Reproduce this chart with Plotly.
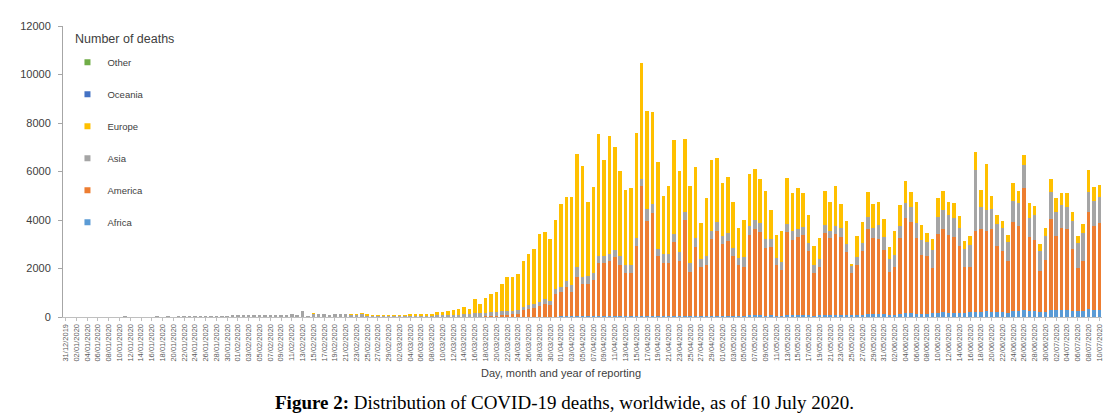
import pandas as pd
import plotly.graph_objects as go

# ---------------- data ----------------
dates = pd.date_range("2019-12-31", "2020-07-10", freq="D").strftime("%d/%m/%Y").tolist()

africa = ([0] * 68 + [1, 0, 1] +
          [0, 1, 1, 1, 1, 2, 2, 3, 3, 4, 5, 6, 8, 8] +
          [9, 10, 12, 14, 15, 16] +
          [20, 22, 25, 28, 30, 30, 32, 35, 38] +
          [40, 42, 44, 45, 48, 50, 50, 52, 50, 45, 48] +
          [55, 58, 60, 55, 62, 50, 55, 50, 55, 60, 62, 58, 60, 55, 50, 60, 65, 70, 68, 62] +
          [65, 55, 58, 75, 80, 85, 78, 70, 60, 72, 85, 90, 95, 88, 80, 70, 85, 95, 105, 110] +
          [120, 110, 90, 95, 130, 145, 150, 140, 125, 110, 160, 175, 190, 185, 180] +
          [170, 160, 200, 210, 220, 230, 210, 200, 190, 180, 240, 250, 290, 260, 250] +
          [210, 220, 270, 280, 300, 270, 260, 230, 250, 350, 300, 290])

america = ([0] * 60 + [1, 1, 2, 3, 5, 5, 5, 5, 5, 5, 5] +
           [4, 4, 6, 9, 9, 13, 18, 22, 32, 46, 65, 90, 100, 115] +
           [276, 302, 340, 433, 541, 484, 916, 1008, 1209, 1002,
            1611, 1340, 1338, 1497, 2172, 2197, 2250, 2410, 2111, 1755,
            1750, 2879, 5345, 3896, 4240, 2474, 2155, 2166, 3045, 2264,
            3925, 1794, 2847, 2025, 2101, 3167, 3477, 2966, 3072, 2460,
            2106, 1988, 3311, 3578, 3444, 2799, 2823, 2087, 1895, 3423,
            3093, 3210, 3298, 2655, 1743, 1976, 3386, 3151, 3309, 3207,
            2605, 1733, 2071, 2630, 3543, 3131, 3080, 2643, 1781, 1953,
            3111, 3937, 3769, 3128, 2438, 2412, 1847, 3256, 3458, 3191,
            3115, 2759, 1888, 1848, 3356, 3428, 3336, 3438, 2729, 2535,
            2112, 3665, 3520, 5012, 3035, 2909, 1675, 2126, 3784, 3056,
            3375, 3378, 2533, 1790, 2069, 3976, 3463, 3588])

asia = ([0] * 11 + [1, 0, 0, 0, 0, 0, 1, 0, 1, 0,
                    3, 11, 8, 16, 15, 15, 24, 26, 26, 38,
                    43, 46, 46, 57, 64, 67, 72, 73, 86, 89,
                    97, 108, 97, 240, 13, 143, 142, 105, 98, 136,
                    116, 120, 112, 102, 158, 80, 62, 42, 53, 55,
                    55, 50, 50, 45, 50, 50, 45, 50, 60, 65] +
        [75, 80, 85, 100, 110, 130, 135, 150, 160, 160, 170, 170, 160, 160] +
        [108, 176, 177, 177, 203, 180, 230, 204, 271, 272,
         407, 298, 311, 271, 312, 285, 298, 299, 353, 339,
         342, 339, 312, 502, 366, 271, 380, 366, 299, 366,
         339, 393, 339, 312, 353, 339, 366, 312, 312, 319,
         258, 406, 367, 339, 366, 339, 312, 272, 298, 340,
         366, 353, 326, 312, 353, 339, 339, 325, 366, 380,
         339, 340, 325, 339, 461, 434, 583, 542, 516, 501,
         502, 610, 597, 610, 597, 583, 746, 691, 772, 814,
         787, 746, 745, 921, 2482, 868, 854, 813, 909, 950,
         813, 895, 922, 949, 787, 1031, 841, 990, 1112, 990,
         949, 908, 1180, 1044, 1152, 840, 1037, 1085])

europe = ([0] * 46 + [1, 0, 0, 0, 0, 0, 0, 1, 2, 3, 4, 3, 2, 5, 6,
                      8, 18, 27, 35, 40, 45, 50, 55, 125, 120] +
          [165, 200, 220, 310, 205, 585, 400, 610, 740, 820, 1130, 1400, 1400, 1490] +
          [1926, 2102, 2264, 2807, 2753, 2520, 2821, 3417, 3458, 3661,
           4678, 4556, 3079, 3540, 5044, 3973, 4882, 4244, 3498, 3092,
           3158, 4339, 4773, 4041, 3797, 3594, 2414, 2807, 3891, 3322,
           3010, 3160, 2942, 1491, 2386, 2929, 2658, 2196, 2332, 1926,
           1261, 1533, 2169, 2129, 1804, 1993, 1220, 962, 1288, 1911,
           1586, 1681, 1423, 1180, 773, 854, 1397, 1194, 1640, 976,
           949, 40, 855, 841, 1030, 976, 949, 746, 501, 990,
           881, 908, 623, 882, 623, 366, 447, 773, 787, 570,
           610, 502, 339, 367, 773, 718, 1899, 543, 352, 298,
           271, 746, 501, 448, 610, 407, 298, 339, 543, 569,
           501, 542, 352, 272, 366, 909, 543, 475])

# Oceania and Other are too small to be seen at this scale
oceania = [0] * 193
other = [0] * 193

series_names = ["Africa", "America", "Asia", "Europe", "Oceania", "Other"]
series_values = [africa, america, asia, europe, oceania, other]
series_colors = ["#5B9BD5", "#ED7D31", "#A5A5A5", "#FFC000", "#4472C4", "#70AD47"]

for v in series_values:
    assert len(v) == len(dates), len(v)

# ---------------- figure ----------------
fig = go.Figure()
for name, vals, col in zip(series_names, series_values, series_colors):
    fig.add_trace(go.Bar(x=dates, y=vals, name=name, marker_color=col,
                         marker_line_width=0, showlegend=False))

# legend entries (small squares), listed top-down from Other to Africa
for name, col in reversed(list(zip(series_names, series_colors))):
    fig.add_trace(go.Scatter(x=[None], y=[None], mode="markers", name=name,
                             legendgroup=name,
                             marker=dict(symbol="square", size=6, color=col)))

fig.update_layout(
    width=1120, height=420,
    margin=dict(l=50, r=26, t=14, b=111),
    paper_bgcolor="white", plot_bgcolor="white",
    barmode="stack", bargap=0.35,
    font=dict(family="Liberation Sans, Arial, sans-serif", color="#404040"),
    legend=dict(
        font=dict(size=9.5, color="#404040"),
        traceorder="grouped", tracegroupgap=13,
        x=0.0043, y=0.925, xanchor="left", yanchor="top",
        bgcolor="rgba(0,0,0,0)", itemwidth=30,
    ),
    xaxis=dict(
        type="category", range=[-0.5, len(dates) - 0.5],
        tickmode="array", tickvals=dates[::2], ticktext=dates[::2],
        tickangle=-90, tickfont=dict(size=7.5, color="#595959"),
        showline=True, linecolor="#BFBFBF", linewidth=1,
        ticks="outside", ticklen=3, tickcolor="#BFBFBF",
        showgrid=False, zeroline=False,
    ),
    yaxis=dict(
        range=[0, 12000], dtick=2000, tickformat="d",
        tickfont=dict(size=11, color="#404040"), ticklabelstandoff=5,
        showline=True, linecolor="#A6A6A6", linewidth=1,
        ticks="outside", ticklen=4, tickcolor="#A6A6A6",
        showgrid=False, zeroline=False,
    ),
)

fig.add_annotation(text="Number of deaths", xref="paper", yref="paper",
                   x=0.0096, y=0.956, xanchor="left", yanchor="middle", showarrow=False,
                   font=dict(size=12.5, color="#404040"))
fig.add_annotation(text="Day, month and year of reporting", xref="paper", yref="paper",
                   x=0.479, y=-0.193, xanchor="center", yanchor="middle", showarrow=False,
                   font=dict(size=11, color="#404040"))
fig.add_annotation(text="<b>Figure 2:</b> Distribution of COVID-19 deaths, worldwide, as of 10 July 2020.",
                   xref="paper", yref="paper", x=0.483, y=-0.295, xanchor="center", yanchor="middle",
                   showarrow=False, font=dict(size=19, family="Liberation Serif, serif", color="#000000"))

fig.write_html("out.html")
